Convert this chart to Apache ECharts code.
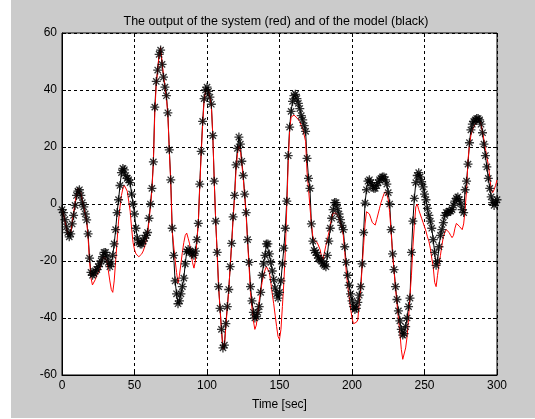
<!DOCTYPE html>
<html>
<head>
<meta charset="utf-8">
<script src="https://cdn.jsdelivr.net/npm/echarts@6/dist/echarts.min.js"></script>
<style>
  html, body { margin: 0; padding: 0; background: #ffffff; }
  #chart { position: absolute; left: 11px; top: 0; width: 524px; height: 418px; }
</style>
</head>
<body>
<div id="chart"></div>
<script>
// Time axis: one sample per second, 0..300 s
const timeStart = 0;
const timeStep = 1;

// Model output (black, with markers)
const modelOutput = [
  -2, -3, -5.5, -8, -10, -11.5, -10.5, -7, -4, -0.5,
  3, 4.5, 5, 3, 0.5, -1, -3.5, -5.6, -10.5, -19,
  -24, -25, -24.5, -23.5, -23, -22, -21, -20, -18.5, -17,
  -17, -18.5, -20.5, -22, -21, -18, -14, -9, -3, 1.5,
  6.5, 11, 12.5, 12, 10, 9, 8.5, 7.5, 3.5, 0,
  -3.5, -8.5, -12, -13.5, -14, -14, -13, -12, -11, -10,
  -5, 0, 5.5, 14.8, 34, 43, 47, 52.5, 54, 49,
  44.5, 41, 38, 32, 19, 8.5, -8.5, -18, -27, -31.5,
  -35, -34, -31.5, -29, -26, -21, -16.7, -16, -16.5, -17,
  -17.5, -18, -16.5, -12.5, -6.8, 7, 18.5, 29, 37, 40,
  41, 39.5, 37.5, 35, 24, 8, -6, -17, -29, -36.6,
  -44, -50.5, -49.5, -42, -36, -30, -22, -13.8, -4.5, 3,
  13.7, 19.5, 23.5, 21, 15, 10, 3.5, -3, -12.5, -20.5,
  -29, -34, -38, -40, -39.5, -38, -36, -31, -25, -21,
  -18, -14, -14, -17.5, -20.5, -23.5, -26.5, -29.5, -31.5, -33,
  -31, -27, -21, -15.5, -8.5, 1, 17, 27, 32.5, 36,
  38, 38.5, 37, 35.3, 33.5, 31, 29.5, 27.5, 25.5, 16,
  9, 5.5, -7, -13, -16.3, -17, -18, -19, -19.6, -20,
  -21, -21.5, -22, -18, -13, -8.5, -5, -2, 0.5, 0.5,
  -1.5, -3.5, -5.5, -7.5, -9, -15, -20.5, -25, -28.5, -31.5,
  -34, -36, -37, -36.6, -34.5, -32, -29, -21, -10, 0.3,
  5, 8, 8.5, 7.5, 6.5, 5.5, 5.5, 6.5, 7.5, 8.5,
  9, 9.5, 9.5, 8.5, 7, 4, 0, -9, -17.5, -23,
  -29, -33.5, -37.5, -41, -44, -46, -45.5, -43, -40, -36,
  -33, -17, -6, 2, 7.5, 10, 11, 9.5, 7.8, 6,
  3.5, 1.5, -1.5, -4, -6, -8.5, -12.5, -17, -21.5, -20,
  -15, -11, -9, -6.5, -4, -3, -3, -2.5, -2.5, -2,
  -0.5, 1, 2, 2.5, 1.5, 0, -2, -3, 5, 8,
  14, 21.5, 26, 28, 29, 29.5, 30, 30, 29.5, 28,
  25, 21, 17, 13, 9, 5.5, 2.5, 0.5, -0.5, 0.5,
  1.5
];

// System output (red)
const systemOutput = [
  -2, -3.5, -6, -8.5, -10.5, -11, -10, -6.5, -3, 0.5,
  3.5, 5.5, 6, 4, 1.5, -1, -3.5, -6, -12, -20,
  -26, -28.4, -28, -26.5, -25, -24.3, -23, -21, -19.5, -18.3,
  -18, -20, -23.5, -27, -30, -31, -27, -20, -13, -6,
  -1, 3, 5.5, 6.5, 6, 4.5, 1, -2.5, -8.5, -13.5,
  -16, -17.5, -18, -18.5, -18.5, -17.5, -16.5, -15, -13, -10.5,
  -6, -1, 5, 14, 32, 42, 47, 53, 55, 50,
  45, 41, 37.5, 31, 19, 7, -9.5, -14.5, -19.6, -24,
  -27.8, -25, -21, -17, -13.5, -11, -10.2, -12, -14, -17.5,
  -20.5, -22.5, -20, -13, -6.8, 6, 17.5, 28, 36, 39.5,
  40.5, 39.5, 37.5, 34.5, 24, 8, -6, -17, -29, -37,
  -44.5, -51, -50, -43, -36.5, -30, -22, -14, -5.5, 2.5,
  11.5, 17.5, 20.5, 19, 14, 9, 2.5, -4, -13.5, -22,
  -31, -36.5, -41, -44, -42.5, -38.5, -34, -30.5, -27.5, -25,
  -23.2, -22, -21.4, -24, -27.5, -31.5, -35, -39, -43, -46.5,
  -47.5, -44, -36, -27.5, -17, -1, 14, 26, 30.5, 31,
  31.2, 30.8, 30.2, 29.5, 29, 27.5, 26.5, 25.8, 22, 11,
  5.5, -1, -7, -11.5, -12.8, -13.2, -13.5, -14, -16, -18.5,
  -19.6, -17, -14.5, -12.6, -10, -7.5, -5, -3.2, -3, -3.2,
  -4, -5, -6.5, -8.5, -11, -17, -23.5, -28.5, -32.5, -36.5,
  -40, -42, -42.5, -41.5, -40.7, -34.5, -30, -22, -14.5, -7,
  -2.7, -2.5, -3.5, -5, -6.5, -7.2, -7.4, -5.5, -3.5, -1.5,
  0.5, 2, 3.5, 4.3, 3.5, 1.5, -3, -10, -17.5, -23.5,
  -29.5, -35, -40, -45, -51, -54.5, -54, -50.5, -46.5, -40,
  -32, -25, -15, -7.5, -1, 0, -2, -3.5, -5, -6.5,
  -8, -9.5, -11.5, -13, -15.5, -19, -22, -27.5, -29, -25,
  -21, -18, -14.5, -11.5, -10, -9, -9.5, -10, -11, -11.8,
  -11, -8.5, -6.8, -7.2, -7.8, -8.5, -9, -7, -2, 4.9,
  15.5, 20.5, 24, 26, 27, 28, 28.8, 29.3, 29.5, 28,
  25.5, 22.5, 19.5, 16.5, 13.7, 9.5, 5, 4, 5, 6.5,
  8.4
];

// Axis ranges and tick spacing
const xTicks = [0, 50, 100, 150, 200, 250, 300];
const yTicks = [-60, -40, -20, 0, 20, 40, 60];

const pairs = arr => arr.map((v, i) => [timeStart + i * timeStep, v]);
const modelPoints = pairs(modelOutput);
const systemPoints = pairs(systemOutput);

// MATLAB-style '*' marker: horizontal, vertical and two diagonal strokes
const asterisk = 'path://M0,5L10,5M5,0L5,10M1.5,1.5L8.5,8.5M8.5,1.5L1.5,8.5';

const fontFamily = '"Liberation Sans", Arial, sans-serif';
const labelStyle = { color: '#000', fontFamily: fontFamily, fontSize: 12 };
const gridDash = { color: '#000', width: 1, type: [3, 3] };
const innerTick = { show: true, inside: true, length: 4, lineStyle: { color: '#000' } };

const chart = echarts.init(document.getElementById('chart'), null, { renderer: 'canvas' });
chart.setOption({
  backgroundColor: '#cbcbcb',
  animation: false,
  title: {
    text: 'The output of the system (red) and of the model (black)',
    left: 260, top: 10, textAlign: 'center',
    textStyle: { color: '#000', fontFamily: fontFamily, fontSize: 12.5, fontWeight: 'normal' }
  },
  grid: {
    left: 51, right: 38, top: 33, bottom: 43,
    show: true, backgroundColor: '#ffffff', borderColor: '#000', borderWidth: 1
  },
  xAxis: [{
    type: 'value', min: xTicks[0], max: xTicks[xTicks.length - 1], interval: xTicks[1] - xTicks[0],
    name: 'Time [sec]', nameLocation: 'middle', nameGap: 24,
    nameTextStyle: labelStyle,
    axisLine: { show: true, onZero: false, lineStyle: { color: '#000' } },
    axisTick: innerTick,
    axisLabel: Object.assign({ margin: 5 }, labelStyle),
    splitLine: { show: true, lineStyle: gridDash }
  }, {
    type: 'value', position: 'top', min: xTicks[0], max: xTicks[xTicks.length - 1], interval: xTicks[1] - xTicks[0],
    axisLine: { show: false, onZero: false },
    axisTick: innerTick,
    axisLabel: { show: false }, splitLine: { show: false }
  }],
  yAxis: [{
    type: 'value', min: yTicks[0], max: yTicks[yTicks.length - 1], interval: yTicks[1] - yTicks[0],
    axisLine: { show: true, onZero: false, lineStyle: { color: '#000' } },
    axisTick: innerTick,
    axisLabel: Object.assign({ margin: 5 }, labelStyle),
    splitLine: { show: true, lineStyle: gridDash }
  }, {
    type: 'value', position: 'right', min: yTicks[0], max: yTicks[yTicks.length - 1], interval: yTicks[1] - yTicks[0],
    axisLine: { show: false, onZero: false },
    axisTick: innerTick,
    axisLabel: { show: false }, splitLine: { show: false }
  }],
  series: [{
    name: 'model line', type: 'line', data: modelPoints, z: 2,
    showSymbol: false, lineStyle: { color: '#000', width: 1 }
  }, {
    name: 'system', type: 'line', data: systemPoints, z: 3,
    showSymbol: false, lineStyle: { color: '#ff0000', width: 1 }
  }, {
    name: 'model markers', type: 'scatter', data: modelPoints, z: 4,
    symbol: asterisk, symbolSize: 9,
    itemStyle: { color: '#000', borderColor: '#000', borderWidth: 1.3 }
  }]
});
</script>
</body>
</html>
